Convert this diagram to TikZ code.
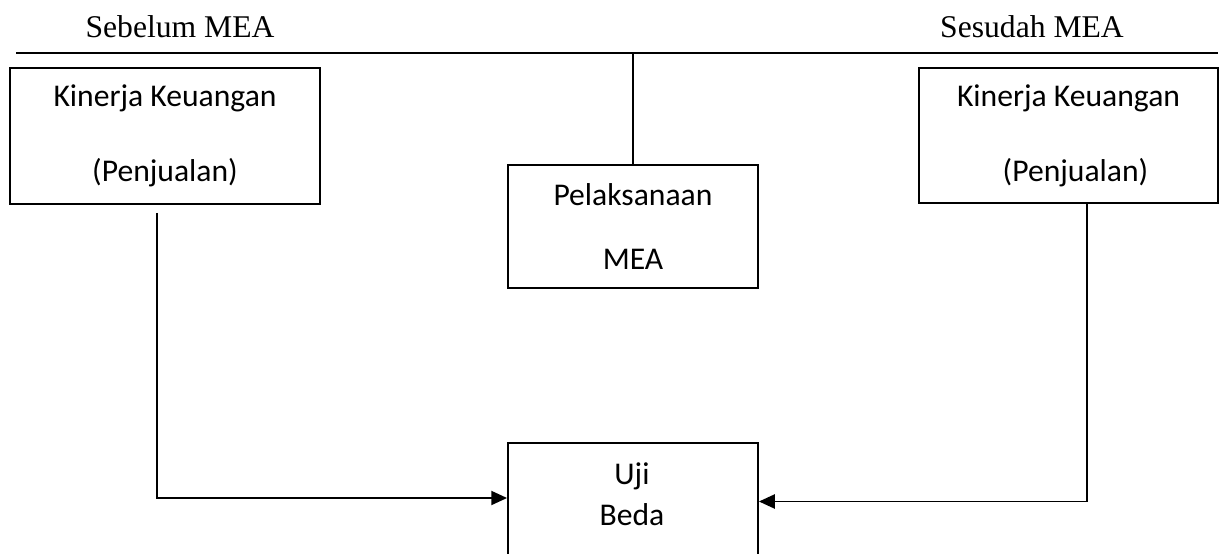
\documentclass[tikz,border=0pt]{standalone}
\usepackage{fontspec}
\setmainfont{Liberation Serif}
\newfontfamily\calibri{Carlito}
\usetikzlibrary{arrows.meta}

\tikzset{
    kotak/.style={draw, line width=1.1pt, rectangle, align=center, inner sep=0pt,
        font=\calibri\fontsize{18}{21.6}\selectfont},
    judul/.style={font=\fontsize{18}{21.6}\selectfont},
    panah/.style={line width=1.1pt, -{Triangle[length=9pt,width=8pt]}}
}

\begin{document}
\begin{tikzpicture}[x=0.02cm, y=-0.02cm]
            \useasboundingbox (0,0) rectangle (1228,554);
            \clip (0,0) rectangle (1228,554);

            % Judul atas
             \node[judul] (sebelum) at (180,27) {Sebelum MEA};
             \node[judul] (sesudah) at (1032,27) {Sesudah MEA};

            % Garis pemisah
             \coordinate (garisA) at (16,53);
             \coordinate (garisB) at (1218,53);
             \draw[line width=1.1pt] (garisA) -- (garisB);

            % Kinerja sebelum MEA
             \node[kotak, minimum width=6.2cm, minimum height=2.72cm] (kiri) at (165,136)
                {Kinerja Keuangan\\[21pt](Penjualan)};

            % Kinerja sesudah MEA
             \node[kotak, minimum width=5.98cm, minimum height=2.7cm] (kanan) at (1068.5,135.5)
                {Kinerja Keuangan\\[21pt]\hspace*{8pt}(Penjualan)};

            % Pelaksanaan MEA
             \node[kotak, minimum width=5cm, minimum height=2.46cm] (mea) at (633,226.5)
                {Pelaksanaan\\[15pt]MEA};
             \draw[line width=1.1pt] (mea.north |- garisA) -- (mea.north);

            % Uji beda (terpotong di bawah)
             \node[kotak, minimum width=5cm, minimum height=2.34cm] (uji) at (633,501.5) {};
             \node[kotak, draw=none] (ujiteks) at (632,494) {Uji\\[2pt]Beda};

            % Panah ke uji beda
             \draw[panah] ([xshift=-0.16cm, yshift=-0.16cm]kiri.south) |- ([yshift=0.07cm]uji.west);
             \draw[panah] ([xshift=0.37cm]kanan.south) |- (uji.east);

        \end{tikzpicture}
\end{document}
